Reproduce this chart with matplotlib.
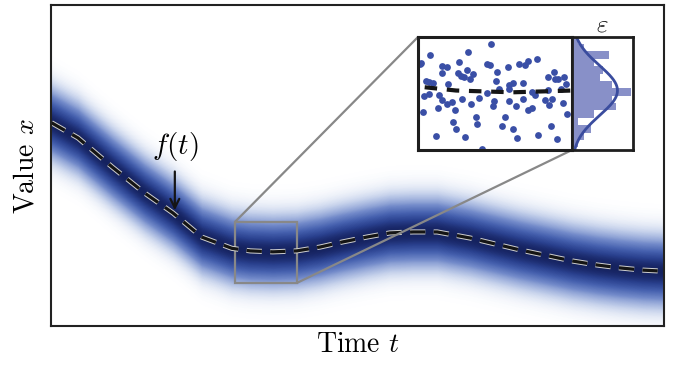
import numpy as np
import matplotlib
matplotlib.use("Agg")
import matplotlib.pyplot as plt
import matplotlib.patheffects as pe
from matplotlib.colors import LinearSegmentedColormap
from mpl_toolkits.axes_grid1.inset_locator import mark_inset

plt.rcParams['font.family'] = 'serif'
plt.rcParams['font.serif'] = ['cmr10']
plt.rcParams['mathtext.fontset'] = 'cm'
plt.rcParams['axes.unicode_minus'] = False
plt.rcParams['lines.scale_dashes'] = False

# curve f(t) (t and value both in 0..1 axis units)
t_vals = [0.001, 0.044, 0.100, 0.153, 0.199, 0.246, 0.295, 0.325, 0.362, 0.401,
          0.439, 0.476, 0.515, 0.553, 0.591, 0.630, 0.684, 0.765, 0.852, 0.891,
          0.928, 0.966, 0.997]
f_vals = [0.633, 0.586, 0.495, 0.414, 0.352, 0.277, 0.242, 0.234, 0.231, 0.234,
          0.246, 0.262, 0.277, 0.290, 0.293, 0.293, 0.274, 0.237, 0.202, 0.190,
          0.181, 0.174, 0.171]
noise_sigma = 0.042
band_sigma = 0.063

# zoomed window
zoom_t = [0.300, 0.401]
zoom_x = [0.134, 0.324]

# noisy samples in the zoomed window
pts_t = [0.348, 0.308, 0.333, 0.302, 0.378, 0.372, 0.370, 0.327, 0.316, 0.319,
         0.345, 0.347, 0.359, 0.366, 0.316, 0.326, 0.332, 0.336, 0.352, 0.389,
         0.385, 0.390, 0.392, 0.396, 0.328, 0.330, 0.334, 0.351, 0.369, 0.360,
         0.362, 0.305, 0.307, 0.310, 0.320, 0.397, 0.304, 0.307, 0.314, 0.345,
         0.353, 0.360, 0.375, 0.377, 0.385, 0.394, 0.316, 0.322, 0.319, 0.329,
         0.340, 0.350, 0.360, 0.369, 0.383, 0.388, 0.395, 0.303, 0.313, 0.324,
         0.335, 0.349, 0.364, 0.372, 0.375, 0.386, 0.398, 0.338, 0.357, 0.323,
         0.339, 0.325, 0.355, 0.362, 0.387, 0.312, 0.331, 0.365, 0.379, 0.391,
         0.342, 0.301]
pts_x = [0.312, 0.293, 0.299, 0.281, 0.287, 0.284, 0.277, 0.282, 0.275, 0.274,
         0.278, 0.277, 0.274, 0.279, 0.264, 0.264, 0.268, 0.261, 0.265, 0.265,
         0.256, 0.253, 0.253, 0.256, 0.258, 0.256, 0.254, 0.250, 0.247, 0.243,
         0.247, 0.250, 0.249, 0.246, 0.245, 0.245, 0.224, 0.228, 0.226, 0.230,
         0.236, 0.236, 0.232, 0.226, 0.235, 0.237, 0.218, 0.215, 0.211, 0.219,
         0.221, 0.216, 0.217, 0.219, 0.218, 0.219, 0.213, 0.198, 0.204, 0.202,
         0.211, 0.208, 0.208, 0.201, 0.205, 0.209, 0.194, 0.190, 0.189, 0.181,
         0.178, 0.169, 0.175, 0.170, 0.174, 0.158, 0.156, 0.155, 0.159, 0.152,
         0.135, 0.279]

# histogram of the noise (bottom to top)
hist_edges = [0.1385, 0.1509, 0.1633, 0.1757, 0.1881, 0.2005, 0.2129, 0.2253,
              0.2377, 0.2501, 0.2625, 0.2749, 0.2873, 0.2997, 0.3121, 0.3245]
hist_counts = [2, 4, 6, 2, 7, 14, 13, 19, 13, 9, 10, 7, 12, 4, 2]
hist_mean = 0.234

blue_pts = '#3a4fa6'
blue_line = '#3a4c9e'
blue_bar = '#8890c8'

fig = plt.figure(figsize=(6.74, 3.66), dpi=100)
ax = fig.add_axes([51 / 674, 1 - 326 / 366, 613 / 674, 321 / 366])

# density band: nested fills, widest/lightest first
cmap = LinearSegmentedColormap.from_list('band', [
    (0.0, '#ffffff'), (0.05, '#edf1f9'), (0.18, '#b9c7e7'), (0.4, '#7189c9'),
    (0.62, '#4560ae'), (0.82, '#2a418f'), (1.0, '#15225f')])
f_arr = np.array(f_vals)
for d in np.linspace(3.6 * band_sigma, 0.004, 90):
    level = np.exp(-0.5 * (d / band_sigma) ** 2)
    ax.fill_between(t_vals, f_arr - d, f_arr + d, color=cmap(level), lw=0)

ax.plot(t_vals, f_vals, color='#151515', lw=2.3, dashes=(11, 6),
        path_effects=[pe.Stroke(linewidth=3.7, foreground='#d0d0d0'), pe.Normal()])

ax.set_xlim(0, 1)
ax.set_ylim(0, 1)
ax.set_xticks([])
ax.set_yticks([])
for s in ax.spines.values():
    s.set_linewidth(1.5)
    s.set_color('#222222')
    s.set_zorder(5)
ax.set_xlabel('Time $t$', fontsize=20, labelpad=4)
ax.set_ylabel('Value $x$', fontsize=20, labelpad=8)

ax.text(0.202, 0.558, '$f(t)$', fontsize=21, ha='center', va='center')
ax.annotate('', xy=(0.202, 0.352), xytext=(0.202, 0.49),
            arrowprops=dict(arrowstyle='->', lw=1.6, color='#151515',
                            mutation_scale=16))

# inset with samples
axins = fig.add_axes([418 / 674, 1 - 150 / 366, 154 / 674, 113 / 366])
axins.scatter(pts_t, pts_x, s=24, color=blue_pts, lw=0, zorder=2)
axins.plot(t_vals, f_vals, color='#151515', lw=3.0, dashes=(9, 7), zorder=3)
axins.set_xlim(*zoom_t)
axins.set_ylim(*zoom_x)
axins.set_xticks([])
axins.set_yticks([])
for s in axins.spines.values():
    s.set_linewidth(2.2)
    s.set_color('#1e1e1e')

mark_inset(ax, axins, loc1=2, loc2=4, fc='none', ec='#888888', lw=1.6)

# histogram of the noise
axh = fig.add_axes([572 / 674, 1 - 150 / 366, 61 / 674, 113 / 366], sharey=axins)
edges = np.array(hist_edges)
axh.barh(edges[:-1], hist_counts, height=np.diff(edges), align='edge',
         color=blue_bar, lw=0)
yy = np.linspace(zoom_x[0], zoom_x[1], 200)
binw = np.mean(np.diff(edges))
pdf = sum(hist_counts) * binw / (noise_sigma * np.sqrt(2 * np.pi)) * \
    np.exp(-0.5 * ((yy - hist_mean) / noise_sigma) ** 2)
axh.plot(pdf, yy, color=blue_line, lw=2.0)
axh.set_xlim(0, 19.6)
axh.set_ylim(*zoom_x)
axh.set_xticks([])
axh.tick_params(left=False, labelleft=False)
for s in axh.spines.values():
    s.set_linewidth(2.0)
    s.set_color('#1e1e1e')
axh.set_title(r'$\varepsilon$', fontsize=18, pad=2)

fig.savefig('out.png', dpi=100)
